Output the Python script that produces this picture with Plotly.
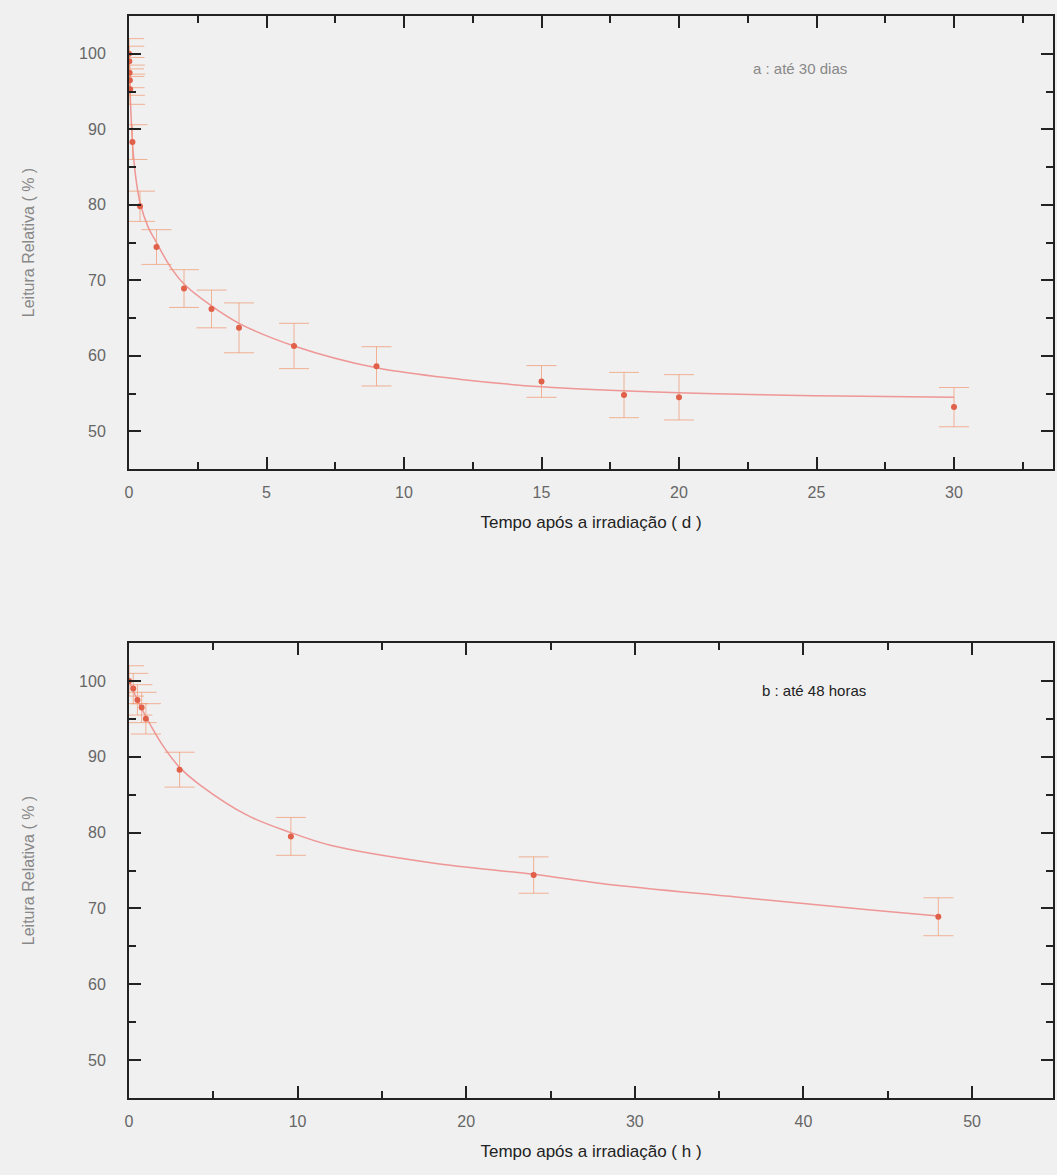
import plotly.graph_objects as go

# ---------------- data ----------------
# Panel a: up to 30 days
days = [0, 0.0104, 0.0208, 0.03125, 0.0417, 0.125, 0.4, 1, 2, 3, 4, 6, 9, 15, 18, 20, 30]
days_val = [100, 99, 97.5, 96.5, 95.3, 88.3, 79.8, 74.4, 68.9, 66.2, 63.7, 61.3, 58.6, 56.6, 54.8, 54.5, 53.2]
days_err = [2, 2, 2, 2, 2, 2.3, 2, 2.3, 2.5, 2.5, 3.3, 3, 2.6, 2.1, 3, 3, 2.6]

# fitted curve, panel a
fit_days_x = [0, 0.05, 0.125, 0.25, 0.4, 0.7, 1, 1.5, 2, 3, 4, 6, 9, 12, 15, 20, 25, 30]
fit_days_y = [100, 94, 88.3, 83.5, 80.3, 77, 75, 71.8, 69.5, 66.6, 64.3, 61.3, 58.4, 56.9, 55.9, 55.1, 54.7, 54.5]

# Panel b: up to 48 hours
hours = [0, 0.25, 0.5, 0.75, 1, 3, 9.6, 24, 48]
hours_val = [100, 99, 97.5, 96.5, 95.0, 88.3, 79.5, 74.4, 68.9]
hours_err = [2, 2, 2, 2, 2, 2.3, 2.5, 2.4, 2.5]

fit_hours_x = [0, 0.5, 1, 2, 3, 4.2, 7, 9.6, 12, 18, 24, 28, 36, 44, 48]
fit_hours_y = [100, 97.5, 95.3, 91.5, 88.6, 86.3, 82.3, 80.0, 78.3, 76.0, 74.5, 73.3, 71.5, 69.8, 69.0]

x_ticks_a = [0, 5, 10, 15, 20, 25, 30]
x_ticks_b = [0, 10, 20, 30, 40, 50]
y_ticks = [50, 60, 70, 80, 90, 100]

title_a = "a : até 30 dias"
title_b = "b : até 48 horas"
xlab_a = "Tempo após a irradiação ( d )"
xlab_b = "Tempo após a irradiação ( h )"
ylab = "Leitura Relativa ( % )"

# ---------------- styling ----------------
FONT = "Liberation Sans, Arial, sans-serif"
BG = "#f0f0f0"
MARK = "#e0604a"
ERR = "rgba(240,150,110,0.7)"
CURVE = "rgba(238,140,140,0.9)"

fig = go.Figure()


def add_panel(xs, ys, es, fx, fy, xa, ya):
    fig.add_trace(go.Scatter(x=fx, y=fy, mode="lines", line=dict(color=CURVE, width=1.5, shape="spline"),
                             xaxis=xa, yaxis=ya, showlegend=False, hoverinfo="skip"))
    fig.add_trace(go.Scatter(x=xs, y=ys, mode="markers",
                             marker=dict(color=MARK, size=6),
                             error_y=dict(type="data", array=es, visible=True, color=ERR, thickness=1, width=15),
                             xaxis=xa, yaxis=ya, showlegend=False))


add_panel(days, days_val, days_err, fit_days_x, fit_days_y, "x", "y")
add_panel(hours, hours_val, hours_err, fit_hours_x, fit_hours_y, "x2", "y2")

common_axis = dict(
    showgrid=False, zeroline=False, showline=True, linecolor="#222", linewidth=2,
    mirror="ticks", ticks="inside", ticklen=12, tickwidth=2, tickcolor="#222",
    tickfont=dict(family=FONT, size=16, color="#666"),
    minor=dict(ticks="inside", ticklen=7, tickwidth=2, tickcolor="#222"),
)

fig.update_layout(
    width=1057, height=1175,
    margin=dict(l=129, r=2, t=16, b=77),
    paper_bgcolor=BG, plot_bgcolor=BG,
    font=dict(family=FONT),
    xaxis=dict(common_axis, domain=[0, 1], anchor="y", range=[0, 33.6],
               tickvals=x_ticks_a, ticklabelstandoff=8,
               minor=dict(common_axis["minor"], dtick=2.5, tick0=0),
               title=dict(text=xlab_a, font=dict(family=FONT, size=17, color="#222"), standoff=16)),
    yaxis=dict(common_axis, domain=[0.5813, 1], anchor="x", range=[45, 105],
               tickvals=y_ticks, ticklabelstandoff=18,
               minor=dict(common_axis["minor"], dtick=5, tick0=0),
               title=dict(text=ylab, font=dict(family=FONT, size=16, color="#888"), standoff=40)),
    xaxis2=dict(common_axis, domain=[0, 1], anchor="y2", range=[0, 54.8],
                tickvals=x_ticks_b, ticklabelstandoff=8,
                minor=dict(common_axis["minor"], dtick=5, tick0=0),
                title=dict(text=xlab_b, font=dict(family=FONT, size=17, color="#222"), standoff=16)),
    yaxis2=dict(common_axis, domain=[0, 0.4205], anchor="x2", range=[45, 105],
                tickvals=y_ticks, ticklabelstandoff=18,
                minor=dict(common_axis["minor"], dtick=5, tick0=0),
                title=dict(text=ylab, font=dict(family=FONT, size=16, color="#888"), standoff=40)),
    annotations=[
        dict(text=title_a, x=24.4, y=98, xref="x", yref="y", showarrow=False,
             font=dict(family=FONT, size=15, color="#888")),
        dict(text=title_b, x=40.6, y=98.8, xref="x2", yref="y2", showarrow=False,
             font=dict(family=FONT, size=15, color="#222")),
    ],
)

fig.write_html("out.html")
